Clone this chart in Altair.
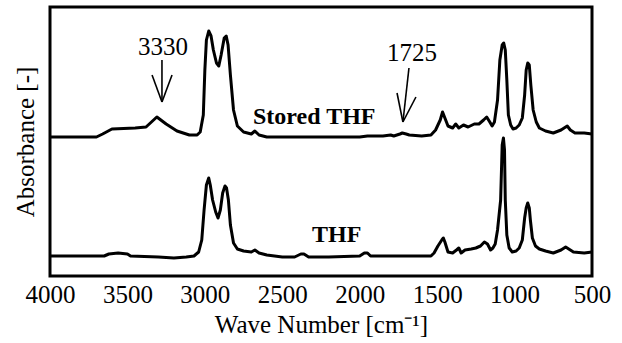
import altair as alt
import pandas as pd

FONT = "Liberation Serif"

# Stored THF spectrum (wavenumber, offset absorbance)
stored_wn = [4000, 3700, 3660, 3600, 3450, 3380, 3310, 3250, 3180, 3100, 3050, 3030, 3010, 3000, 2990, 2975,
             2960, 2945, 2925, 2910, 2895, 2875, 2862, 2850, 2835, 2815, 2790, 2750, 2700, 2677, 2650, 2600,
             2000, 1950, 1850, 1800, 1780, 1740, 1725, 1700, 1680, 1600, 1540, 1510, 1480, 1465, 1450, 1430,
             1400, 1380, 1360, 1330, 1300, 1260, 1230, 1200, 1180, 1160, 1145, 1130, 1110, 1095, 1080, 1070,
             1060, 1050, 1040, 1025, 1010, 990, 970, 950, 935, 925, 915, 905, 895, 880, 860, 840, 800, 750,
             700, 670, 660, 640, 610, 550, 500]
stored_abs = [1.39, 1.39, 1.42, 1.47, 1.48, 1.49, 1.59, 1.52, 1.45, 1.41, 1.41, 1.44, 1.61, 2.06, 2.36, 2.45,
              2.40, 2.26, 2.13, 2.10, 2.21, 2.38, 2.40, 2.31, 2.01, 1.66, 1.50, 1.44, 1.42, 1.45, 1.41, 1.39,
              1.39, 1.40, 1.40, 1.41, 1.40, 1.42, 1.43, 1.42, 1.41, 1.40, 1.41, 1.46, 1.56, 1.64, 1.58, 1.50,
              1.48, 1.52, 1.48, 1.51, 1.49, 1.52, 1.52, 1.56, 1.59, 1.54, 1.50, 1.54, 1.76, 2.16, 2.31, 2.33,
              2.26, 1.96, 1.61, 1.51, 1.47, 1.48, 1.51, 1.58, 1.81, 2.06, 2.13, 2.11, 1.91, 1.66, 1.54, 1.48,
              1.45, 1.43, 1.46, 1.49, 1.50, 1.46, 1.43, 1.43, 1.42]

# Fresh THF spectrum
thf_wn = [4000, 3650, 3620, 3560, 3500, 3480, 3300, 3200, 3120, 3070, 3040, 3020, 3005, 2990, 2975, 2965,
          2950, 2930, 2915, 2900, 2885, 2870, 2860, 2848, 2835, 2815, 2790, 2750, 2700, 2677, 2650, 2600,
          2500, 2420, 2380, 2360, 2330, 2200, 2000, 1970, 1950, 1930, 1540, 1520, 1495, 1470, 1460, 1450,
          1430, 1400, 1375, 1360, 1345, 1320, 1280, 1250, 1220, 1195, 1175, 1155, 1140, 1125, 1110, 1090,
          1080, 1072, 1065, 1060, 1050, 1035, 1015, 990, 970, 950, 935, 925, 915, 905, 898, 885, 865, 840,
          800, 750, 700, 670, 650, 620, 550, 500]
thf_abs = [0.20, 0.20, 0.22, 0.23, 0.22, 0.20, 0.19, 0.18, 0.19, 0.20, 0.24, 0.36, 0.66, 0.91, 0.98, 0.91,
           0.76, 0.64, 0.58, 0.66, 0.83, 0.90, 0.88, 0.76, 0.51, 0.33, 0.27, 0.25, 0.24, 0.26, 0.23, 0.21,
           0.19, 0.19, 0.22, 0.22, 0.19, 0.19, 0.20, 0.23, 0.23, 0.20, 0.20, 0.23, 0.30, 0.36, 0.38, 0.34,
           0.24, 0.23, 0.26, 0.28, 0.23, 0.26, 0.27, 0.28, 0.30, 0.34, 0.32, 0.26, 0.28, 0.32, 0.46, 0.76,
           1.31, 1.38, 1.26, 0.76, 0.41, 0.28, 0.24, 0.25, 0.28, 0.36, 0.58, 0.68, 0.73, 0.68, 0.56, 0.38,
           0.30, 0.27, 0.25, 0.23, 0.26, 0.29, 0.27, 0.24, 0.23, 0.24]

tick_values = [4000, 3500, 3000, 2500, 2000, 1500, 1000, 500]

# Annotations
label_text = ["3330", "1725"]
label_wn = [3270, 1662]
label_y = [2.29, 2.23]

series_text = ["Stored THF", "THF"]
series_wn = [2689, 2308]
series_y = [1.59, 0.41]

# arrow segments: shafts and heads
seg_x = [3277, 3341, 3212, 1682, 1759, 1637]
seg_y = [2.16, 2.01, 2.01, 2.08, 1.83, 1.79]
seg_x2 = [3277, 3277, 3277, 1721, 1721, 1721]
seg_y2 = [1.74, 1.74, 1.74, 1.54, 1.54, 1.54]

spec = pd.concat([
    pd.DataFrame({"wn": stored_wn, "a": stored_abs, "s": "Stored THF"}),
    pd.DataFrame({"wn": thf_wn, "a": thf_abs, "s": "THF"}),
])

xs = alt.Scale(domain=[4000, 500], nice=False, zero=False)
ys = alt.Scale(domain=[0, 2.69], nice=False, zero=False)

x_axis = alt.Axis(values=tick_values, format="d", domain=False, ticks=False, grid=False,
                  labelFont=FONT, labelFontSize=25, labelColor="black", labelPadding=6,
                  labelFlush=False, title="Wave Number [cm⁻¹]", titleFont=FONT, titleFontSize=25,
                  titleFontWeight="normal", titleColor="black", titlePadding=5)
y_axis = alt.Axis(labels=False, ticks=False, domain=False, grid=False, title="Absorbance [-]",
                  titleFont=FONT, titleFontSize=25, titleFontWeight="normal", titleColor="black",
                  titlePadding=12)

lines = alt.Chart(spec).mark_line(color="black", strokeWidth=3, strokeJoin="round").encode(
    x=alt.X("wn:Q", scale=xs, axis=x_axis),
    y=alt.Y("a:Q", scale=ys, axis=y_axis),
    detail="s:N",
    order="idx:Q",
).transform_window(idx="row_number()", groupby=["s"])

seg_df = pd.DataFrame({"x": seg_x, "y": seg_y, "x2": seg_x2, "y2": seg_y2})
arrows = alt.Chart(seg_df).mark_rule(color="black", strokeWidth=1.6).encode(
    x=alt.X("x:Q", scale=xs), y=alt.Y("y:Q", scale=ys), x2="x2:Q", y2="y2:Q")

lab_df = pd.DataFrame({"t": label_text, "x": label_wn, "y": label_y})
labels = alt.Chart(lab_df).mark_text(font=FONT, fontSize=25, color="black", align="center",
                                     baseline="middle").encode(
    x=alt.X("x:Q", scale=xs), y=alt.Y("y:Q", scale=ys), text="t:N")

ser_df = pd.DataFrame({"t": series_text, "x": series_wn, "y": series_y})
series_labels = alt.Chart(ser_df).mark_text(font=FONT, fontSize=24, fontWeight="bold", color="black",
                                            align="left", baseline="middle").encode(
    x=alt.X("x:Q", scale=xs), y=alt.Y("y:Q", scale=ys), text="t:N")

chart = alt.layer(lines, arrows, labels, series_labels).properties(
    width=542, height=269,
    autosize=alt.AutoSizeParams(type="none"),
    padding={"left": 50, "top": 7, "right": 30, "bottom": 67},
    background="white",
).configure_view(stroke="black", strokeWidth=3)

chart.save("out.html", embed_options={"renderer": "svg", "actions": False})
